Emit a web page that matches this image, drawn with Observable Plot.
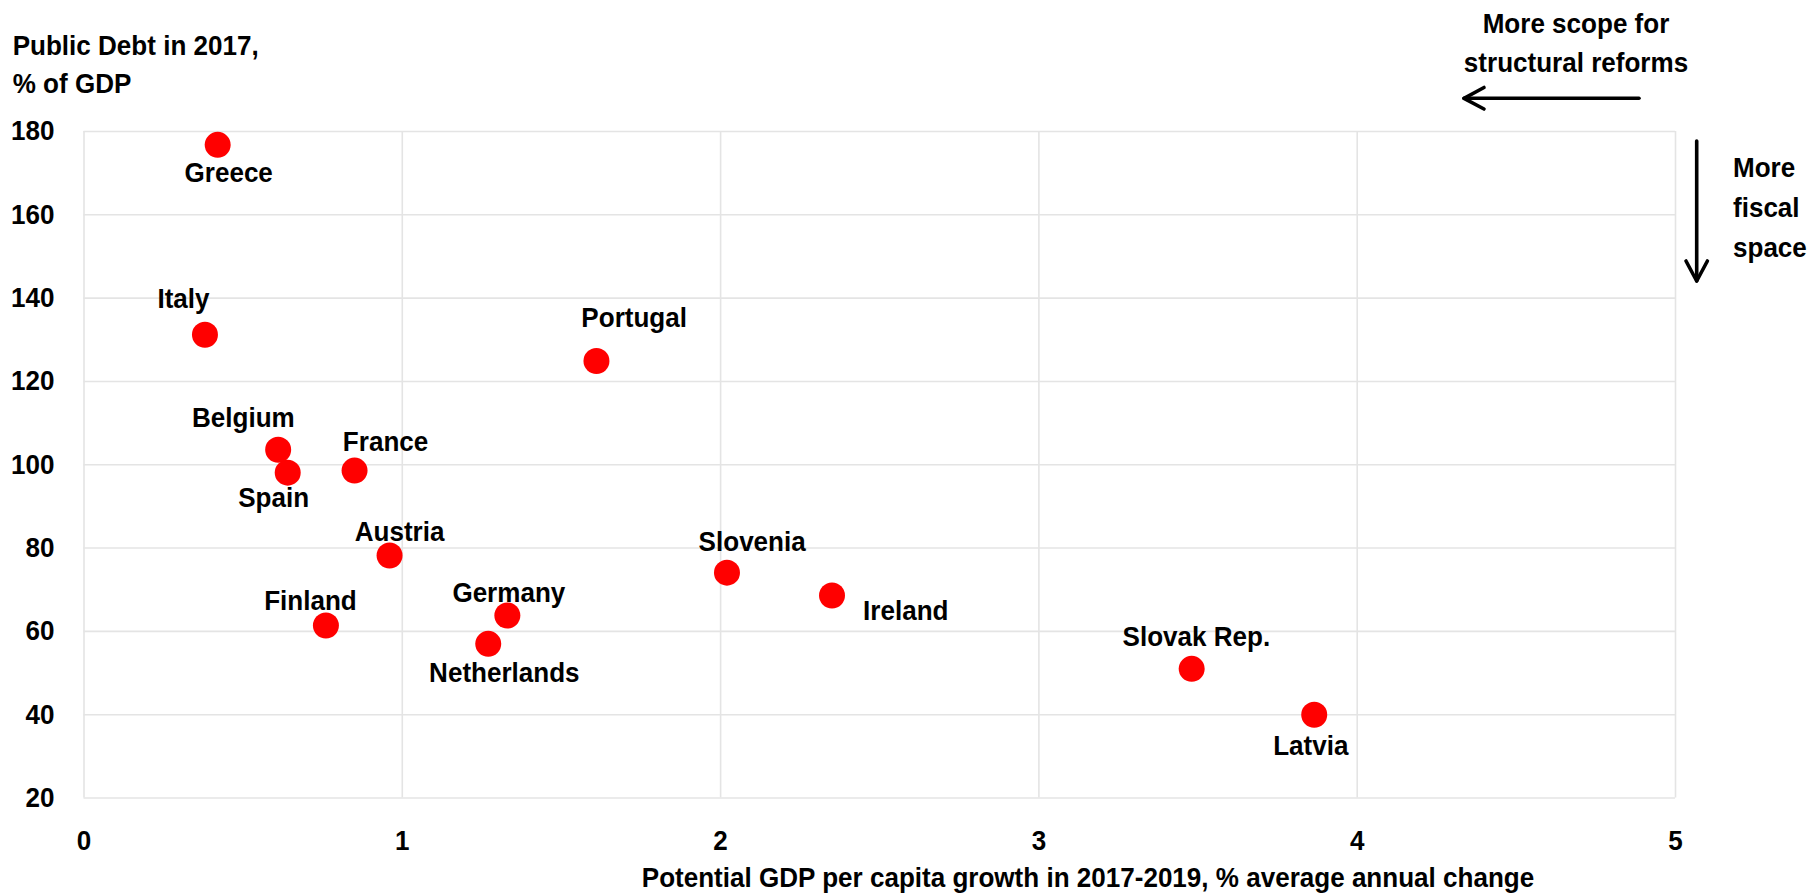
<!DOCTYPE html>
<html>
<head>
<meta charset="utf-8">
<script src="https://cdn.jsdelivr.net/npm/d3@7"></script>
<script src="https://cdn.jsdelivr.net/npm/@observablehq/plot@0.6"></script>
<style>
  html, body { margin: 0; padding: 0; background: #fff; }
  #chart svg { display: block; }
</style>
</head>
<body>
<div id="chart"></div>
<script>
// ---- data ----
const countries = ["Greece", "Italy", "Portugal", "Belgium", "Spain", "France", "Austria", "Finland", "Germany", "Netherlands", "Slovenia", "Ireland", "Slovak Rep.", "Latvia"];
const growth = [0.42, 0.38, 1.61, 0.61, 0.64, 0.85, 0.96, 0.76, 1.33, 1.27, 2.02, 2.35, 3.48, 3.865];
const debt = [176.8, 131.2, 124.9, 103.6, 98.1, 98.6, 78.2, 61.4, 63.8, 57.0, 74.1, 68.6, 51.0, 40.0];
const xTicks = [0, 1, 2, 3, 4, 5];
const yTicks = [20, 40, 60, 80, 100, 120, 140, 160, 180];
const yTitle = ["Public Debt in 2017,", "% of GDP"];
const xTitle = "Potential GDP per capita growth in 2017-2019, % average annual change";
const noteTop = ["More scope for", "structural reforms"];
const noteRight = ["More", "fiscal", "space"];

// label placement (pixels, relative to each dot)
const labelOffsets = {
  "Greece": [11, 28.5], "Italy": [-21.5, -35.3], "Portugal": [37.7, -42.9],
  "Belgium": [-34.8, -31.6], "Spain": [-14.1, 25.3], "France": [31, -29],
  "Austria": [10, -23.7], "Finland": [-15.5, -24.3], "Germany": [1.5, -22.3],
  "Netherlands": [16.1, 28.7], "Slovenia": [25.2, -30.2], "Ireland": [73.8, 15.5],
  "Slovak Rep.": [4.7, -32], "Latvia": [-3.4, 31.2]
};

const data = countries.map((c, i) => ({country: c, growth: growth[i], debt: debt[i]}));

const FONT = "'Liberation Sans', Arial, Helvetica, sans-serif";
const FS = 28;          // font size (px)
const SQUEEZE = 0.93;   // horizontal condensing of the bold face
const W = 1820, H = 896;
const mL = 83.5, mR = 145, mT = 131, mB = 98.5;

const labelMarks = data.map(d => Plot.text([d], {
  x: "growth", y: "debt", text: "country",
  dx: labelOffsets[d.country][0], dy: labelOffsets[d.country][1],
  fill: "#000", fontWeight: "bold", fontSize: FS
}));

const chart = Plot.plot({
  width: W, height: H,
  marginLeft: mL, marginRight: mR, marginTop: mT, marginBottom: mB,
  style: {fontFamily: FONT, fontSize: FS + "px", fontWeight: "bold", color: "#000", background: "#fff", overflow: "visible"},
  x: {domain: [0, 5], ticks: xTicks, label: null, tickSize: 0, tickPadding: 32.5, tickFormat: d3.format("d")},
  y: {domain: [20, 180], ticks: yTicks, label: null, tickSize: 0, tickPadding: 29.5, tickFormat: d3.format("d")},
  marks: [
    Plot.gridX(xTicks, {stroke: "#e4e4e4", strokeOpacity: 1, strokeWidth: 1.6}),
    Plot.gridY(yTicks, {stroke: "#e4e4e4", strokeOpacity: 1, strokeWidth: 1.6}),
    Plot.dot(data, {x: "growth", y: "debt", r: 13, fill: "#ff0000", stroke: "none"}),
    ...labelMarks
  ]
});

document.getElementById("chart").appendChild(chart);

// ---- annotations drawn into the same SVG ----
const svg = d3.select(chart);
const g = svg.append("g")
  .attr("font-family", FONT).attr("font-size", FS).attr("font-weight", "bold").attr("fill", "#000")
  .attr("text-anchor", "start");

// y-axis title
yTitle.forEach((t, i) => g.append("text").attr("x", 12.7).attr("y", 55 + i * 38).attr("text-anchor", "start").text(t));

// x-axis title
g.append("text").attr("x", 1088).attr("y", 887).attr("text-anchor", "middle").text(xTitle);

// top-right note
noteTop.forEach((t, i) => g.append("text").attr("x", 1576).attr("y", 33 + i * 39).attr("text-anchor", "middle").text(t));

// right note
noteRight.forEach((t, i) => g.append("text").attr("x", 1733).attr("y", 177 + i * 40).attr("text-anchor", "start").text(t));

// arrows
const a = svg.append("g").attr("stroke", "#000").attr("stroke-width", 3.6).attr("fill", "none")
  .attr("stroke-linecap", "round").attr("stroke-linejoin", "round");
// horizontal (pointing left)
a.append("line").attr("x1", 1639).attr("y1", 98.3).attr("x2", 1464).attr("y2", 98.3);
a.append("path").attr("d", "M1484,87.5 L1464,98.3 L1484,109");
// vertical (pointing down)
a.append("line").attr("x1", 1696.7).attr("y1", 141).attr("x2", 1696.7).attr("y2", 281);
a.append("path").attr("d", "M1686,261 L1696.7,281 L1707.4,261");

// condense every text horizontally (the reference uses a narrow bold face)
svg.selectAll("text").each(function() {
  const len = this.getComputedTextLength();
  if (len > 0) {
    this.setAttribute("textLength", (len * SQUEEZE).toFixed(2));
    this.setAttribute("lengthAdjust", "spacingAndGlyphs");
  }
});
</script>
</body>
</html>
